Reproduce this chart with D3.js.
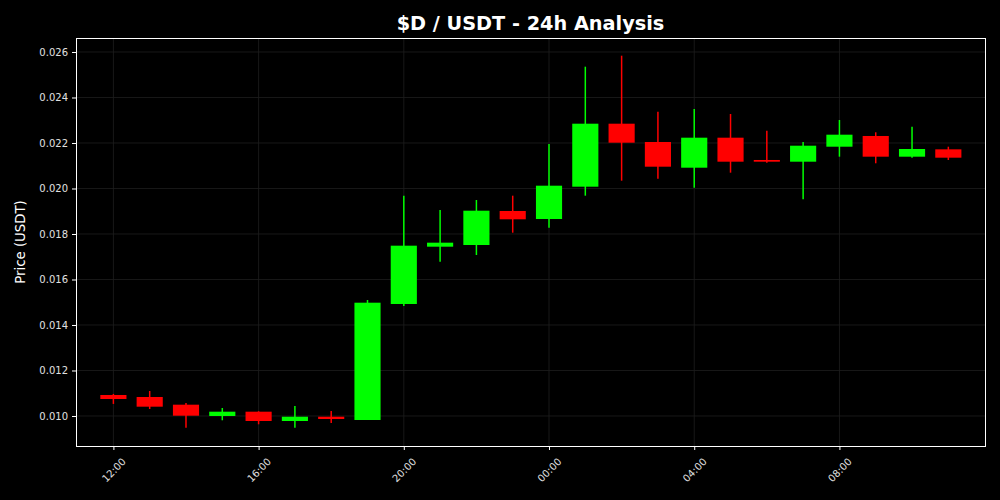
<!DOCTYPE html>
<html><head><meta charset="utf-8">
<script src="https://cdn.jsdelivr.net/npm/d3@7/dist/d3.min.js"></script>
<style>html,body{margin:0;padding:0;background:#000;}svg{display:block;}</style>
</head><body>
<svg id="chart" width="1000" height="500"></svg>
<script>
const hours = ["12:00","13:00","14:00","15:00","16:00","17:00","18:00","19:00","20:00","21:00","22:00","23:00",
               "00:00","01:00","02:00","03:00","04:00","05:00","06:00","07:00","08:00","09:00","10:00","11:00"];
const opens  = [0.010923,0.010835,0.010497,0.010000,0.010189,0.009780,0.009969,0.009824,0.014923,0.017442,0.017516,0.019011,
                0.018659,0.020079,0.022848,0.022044,0.020914,0.022233,0.021253,0.021178,0.021837,0.022308,0.021398,0.021721];
const highs  = [0.010970,0.011099,0.010571,0.010352,0.010207,0.010440,0.010220,0.015099,0.019684,0.019055,0.019495,0.019684,
                0.021956,0.025354,0.025837,0.023376,0.023495,0.023275,0.022541,0.022044,0.023011,0.022470,0.022716,0.021837];
const lows   = [0.010530,0.010308,0.009486,0.009811,0.009635,0.009486,0.009692,0.009824,0.014835,0.016782,0.017077,0.018057,
                0.018277,0.019684,0.020343,0.020431,0.020035,0.020695,0.021134,0.019525,0.021398,0.021108,0.021354,0.021253];
const closes = [0.010747,0.010409,0.010013,0.010189,0.009780,0.009969,0.009868,0.014980,0.017486,0.017618,0.019024,0.018646,
                0.020123,0.022848,0.022013,0.020958,0.022233,0.021178,0.021178,0.021881,0.022365,0.021398,0.021736,0.021354];
const yTicks = [0.010,0.012,0.014,0.016,0.018,0.020,0.022,0.024,0.026];
const xTickLabels = ["12:00","16:00","20:00","00:00","04:00","08:00"];

const start = new Date(2024,0,1,12,0,0);
const HOUR = 3600*1000;
const data = hours.map((h,i)=>({t:new Date(start.getTime()+i*HOUR), o:opens[i], h:highs[i], l:lows[i], c:closes[i], label:h}));

const svg = d3.select("#chart");
const W=1000,H=500;
const m = {left:76, right:15, top:38, bottom:54};
const pw = W-m.left-m.right, ph = H-m.top-m.bottom;
svg.append("rect").attr("width",W).attr("height",H).attr("fill","#000");

const x = d3.scaleTime().domain([new Date(start.getTime()-1.03*HOUR), new Date(start.getTime()+24.01*HOUR)]).range([m.left, m.left+pw]);
const y = d3.scaleLinear().domain([0.008681, 0.026615]).range([m.top+ph, m.top]);

const xTickVals = data.filter(d=>xTickLabels.includes(d.label)).map(d=>d.t);
const g = svg.append("g");

// grid
g.append("g").selectAll("line").data(yTicks).join("line")
  .attr("x1",m.left).attr("x2",m.left+pw).attr("y1",d=>y(d)).attr("y2",d=>y(d))
  .attr("stroke","#1e1e1e").attr("stroke-width",0.8);
g.append("g").selectAll("line").data(xTickVals).join("line")
  .attr("y1",m.top).attr("y2",m.top+ph).attr("x1",d=>x(d)).attr("x2",d=>x(d))
  .attr("stroke","#1e1e1e").attr("stroke-width",0.8);

// candles
const bw = 0.72*HOUR;
const col = d=> d.c>=d.o ? "#00ff00" : "#ff0000";
const cg = g.append("g");
cg.selectAll("line.wick").data(data).join("line").attr("class","wick")
  .attr("x1",d=>x(d.t)).attr("x2",d=>x(d.t)).attr("y1",d=>y(d.h)).attr("y2",d=>y(d.l))
  .attr("stroke",col).attr("stroke-width",1.5);
cg.selectAll("rect.body").data(data).join("rect").attr("class","body")
  .attr("x",d=>x(new Date(d.t.getTime()-bw/2)))
  .attr("width",d=>x(new Date(d.t.getTime()+bw/2))-x(new Date(d.t.getTime()-bw/2)))
  .attr("y",d=>y(Math.max(d.o,d.c)))
  .attr("height",d=>Math.max(1.5, Math.abs(y(d.o)-y(d.c))))
  .attr("fill",col);

// axes
const xAxis = d3.axisBottom(x).tickValues(xTickVals).tickFormat(d3.timeFormat("%H:%M")).tickSize(4).tickPadding(3);
const xg = svg.append("g").attr("transform",`translate(0,${m.top+ph})`).call(xAxis);
xg.select(".domain").remove();
xg.selectAll("line").attr("stroke","#fff");
xg.selectAll("text").attr("fill","#e0e0e0").attr("font-size",10).attr("font-family","DejaVu Sans")
  .attr("text-anchor","middle").attr("x",null).attr("y",null).attr("dy","0.35em")
  .attr("transform","translate(0,24) rotate(-45)");

const yAxis = d3.axisLeft(y).tickValues(yTicks).tickFormat(d3.format(".3f")).tickSize(4).tickPadding(4);
const yg = svg.append("g").attr("transform",`translate(${m.left},0)`).call(yAxis);
yg.select(".domain").remove();
yg.selectAll("line").attr("stroke","#fff");
yg.selectAll("text").attr("fill","#e0e0e0").attr("font-size",10).attr("font-family","DejaVu Sans");

// frame
svg.append("rect").attr("x",m.left+0.5).attr("y",m.top+0.5).attr("width",pw).attr("height",ph)
  .attr("fill","none").attr("stroke","#fff").attr("stroke-width",1);

// labels
svg.append("text").attr("x",m.left+pw/2).attr("y",30).attr("text-anchor","middle")
  .attr("fill","#fff").attr("font-family","DejaVu Sans").attr("font-weight","bold").attr("font-size",19.3)
  .text("$D / USDT - 24h Analysis");
svg.append("text").attr("transform",`translate(25,${m.top+ph/2}) rotate(-90)`).attr("text-anchor","middle")
  .attr("fill","#fff").attr("font-family","DejaVu Sans").attr("font-size",13.3)
  .text("Price (USDT)");
</script>
</body></html>
